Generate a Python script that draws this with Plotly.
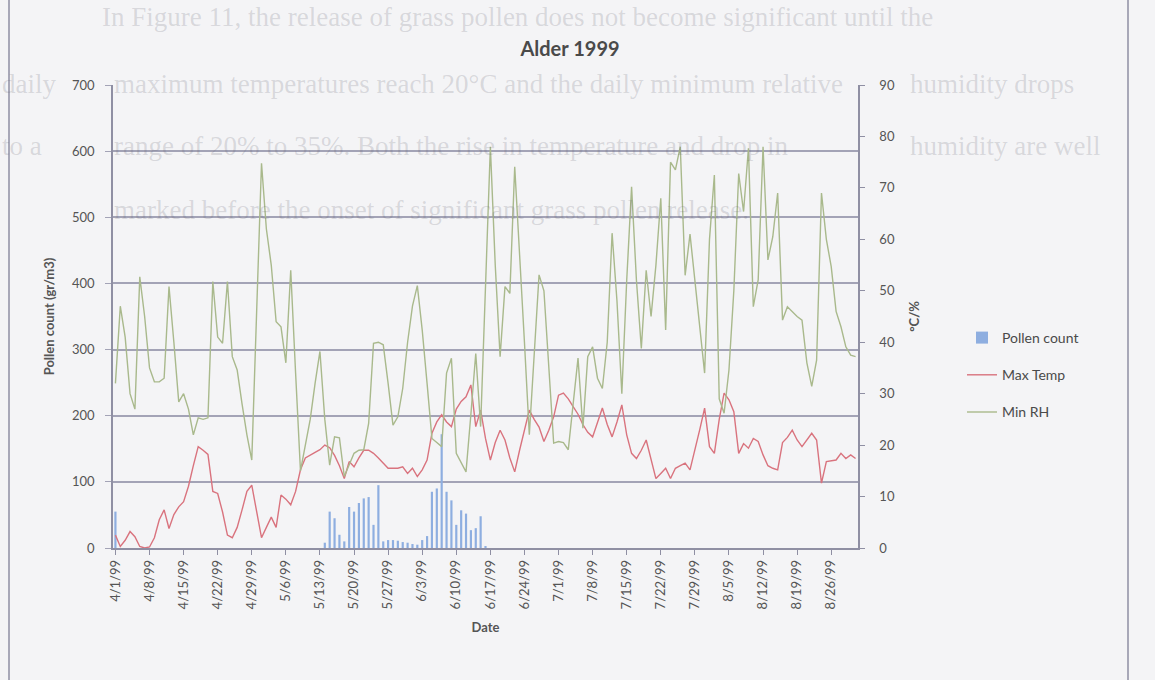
import pandas as pd
import plotly.graph_objects as go

# ---------------- data ----------------
dates = pd.date_range("1999-04-01", "1999-08-31", freq="D")

pollen_count = [
    55, 0, 0, 0, 0, 0, 0, 0, 0, 0,
    0, 0, 0, 0, 0, 0, 0, 0, 0, 0,
    0, 0, 0, 0, 0, 0, 0, 0, 0, 0,
    0, 0, 0, 0, 0, 0, 0, 0, 0, 0,
    0, 0, 0, 8, 55, 45, 20, 10, 62, 55,
    68, 75, 77, 35, 95, 10, 12, 12, 11, 9,
    8, 6, 5, 12, 18, 85, 90, 172, 85, 72,
    35, 57, 52, 27, 30, 48, 3, 0, 0, 0,
    0, 0, 0, 0, 0, 0, 0, 0, 0, 0,
    0, 0, 0, 0, 0, 0, 0, 0, 0, 0,
    0, 0, 0, 0, 0, 0, 0, 0, 0, 0,
    0, 0, 0, 0, 0, 0, 0, 0, 0, 0,
    0, 0, 0, 0, 0, 0, 0, 0, 0, 0,
    0, 0, 0, 0, 0, 0, 0, 0, 0, 0,
    0, 0, 0, 0, 0, 0, 0, 0, 0, 0,
    0, 0, 0,
]

max_temp = [
    2.5, 0.3, 1.5, 3.2, 2.2, 0.3, 0, 0.2, 2, 5.5,
    7.4, 3.8, 6.5, 8, 9, 12, 16, 19.7, 19, 18.2,
    11, 10.6, 7, 2.5, 2, 4, 7.4, 11, 12.2, 7,
    2, 4, 6, 4, 10.3, 9.5, 8.4, 11, 15.2, 17.5,
    18.1, 18.6, 19.1, 20, 19.5, 18, 16, 13.5, 16.8, 15.8,
    17.5, 19, 19, 18.4, 17.5, 16.5, 15.5, 15.5, 15.5, 15.8,
    14.5, 15.5, 13.9, 15.2, 17.1, 22.3, 24.5, 25.9, 24.5, 23.6,
    27, 28.5, 29.4, 31.7, 23.6, 26.8, 21.3, 17.1, 20.5, 22.9,
    21, 17.5, 14.8, 19, 22.9, 26.8, 25, 23.5, 20.7, 22.9,
    25.5, 29.7, 30.1, 29, 27.5, 26, 24, 22.5, 21.6, 24.5,
    27.2, 24, 21.6, 24.5, 27.8, 22, 18.4, 17.4, 19, 21,
    17, 13.5, 14.5, 15.5, 13.5, 15.5, 16, 16.5, 15.2, 19,
    23, 27.2, 19.7, 18.4, 25, 30.1, 28.8, 26.5, 18.4, 20.3,
    19.4, 21.3, 20.7, 18.1, 16, 15.5, 15.2, 20.5, 21.5, 22.9,
    21, 19.7, 21, 22.3, 21, 12.6, 16.8, 17, 17.1, 18.4,
    17.4, 18.1, 17.4,
]

min_rh = [
    32, 47, 41, 30, 27, 52.7, 45, 35, 32.3, 32.3,
    33, 50.8, 40, 28.4, 30, 27, 22, 25.3, 25, 25.3,
    51.8, 41, 39.8, 51.8, 37.2, 34.6, 28, 22, 17.1, 45,
    74.8, 62, 55, 44, 43, 36, 54, 34, 15, 20,
    25, 32, 38.2, 25, 16.1, 21.6, 21.4, 13.9, 16, 18.4,
    19, 19.1, 24.2, 39.8, 40, 39.5, 32, 23.9, 25.5, 31,
    40, 47, 51, 42.4, 32, 21.3, 20.5, 19.7, 34, 36.9,
    18.4, 16.5, 14.8, 26, 37.8, 23.6, 50, 78, 55, 37.2,
    50.8, 49.5, 74.1, 58, 40, 22, 38, 53.1, 50, 35,
    20.4, 20.7, 20.5, 19.1, 28, 36.9, 23.3, 37.2, 39.1, 33,
    31, 40, 61.2, 48, 30, 52, 70.2, 52, 38.8, 54,
    45, 55, 68, 42.4, 75, 73.5, 78, 53, 61, 52,
    42, 34, 60, 72.5, 29, 26.2, 34.6, 50, 72.8, 65.4,
    77.7, 46.9, 52.1, 78, 56, 60.5, 69, 44.3, 46.9, 46,
    45, 44.3, 36, 31.4, 36.5, 69, 60, 54.7, 46, 43,
    39.1, 37.5, 37.2,
]

tick_dates = pd.date_range("1999-04-01", "1999-08-26", freq="7D")
tick_labels = ["4/1/99", "4/8/99", "4/15/99", "4/22/99", "4/29/99", "5/6/99",
               "5/13/99", "5/20/99", "5/27/99", "6/3/99", "6/10/99", "6/17/99",
               "6/24/99", "7/1/99", "7/8/99", "7/15/99", "7/22/99", "7/29/99",
               "8/5/99", "8/12/99", "8/19/99", "8/26/99"]

# faint text of the scanned page showing through behind the chart
page_text = [
    "In Figure 11, the release of grass pollen does not become significant until the",
    "daily",
    "maximum temperatures reach 20\u00b0C and the daily minimum relative",
    "humidity drops",
    "to a",
    "range of 20% to 35%. Both the rise in temperature and drop in",
    "humidity are well",
    "marked before the onset of significant grass pollen release.",
]

# ---------------- figure ----------------
FONT = "Lato, 'Open Sans', sans-serif"
W, H = 1155, 680
L, R, T, B = 113, 297, 85, 132
pw = W - L - R
ph = H - T - B

fig = go.Figure()

fig.add_trace(go.Bar(
    x=dates, y=pollen_count, name="Pollen count",
    marker=dict(color="#8eaee0", line=dict(width=0)),
    legendgroup="a", yaxis="y",
))
fig.add_trace(go.Scatter(
    x=dates, y=max_temp, name="Max Temp", mode="lines",
    line=dict(color="#d9737e", width=1.4),
    legendgroup="b", yaxis="y2",
))
fig.add_trace(go.Scatter(
    x=dates, y=min_rh, name="Min RH", mode="lines",
    line=dict(color="#a9b98c", width=1.4),
    legendgroup="c", yaxis="y2",
))

ann = []
text_pos = [(100, 17), (0, 84), (112, 84), (908, 84),
            (0, 146), (112, 146), (908, 146), (112, 210)]
for (px, py), t in zip(text_pos, page_text):
    ann.append(dict(
        text=t, xref="paper", yref="paper",
        x=(px - L) / pw, y=(H - B - py) / ph,
        xanchor="left", yanchor="middle", showarrow=False,
        font=dict(family="'Liberation Serif', serif", size=27,
                  color="rgba(95,95,110,0.20)"),
    ))

shapes = []
for bx in (9, 1128):
    shapes.append(dict(
        type="line", xref="paper", yref="paper",
        x0=(bx - L) / pw, x1=(bx - L) / pw,
        y0=-B / ph, y1=(H - B) / ph,
        line=dict(color="#8f8fa3", width=1.5), layer="below",
    ))

fig.update_layout(
    width=W, height=H,
    margin=dict(l=L, r=R, t=T, b=B),
    paper_bgcolor="#f4f4f6", plot_bgcolor="#f4f4f6",
    font=dict(family=FONT, size=13, color="#555555"),
    title=dict(text="<b>Alder 1999</b>", x=570 / W, xref="container",
               y=1 - 49 / H, yref="container", xanchor="center", yanchor="middle",
               font=dict(family=FONT, size=20, color="#4a4a4a")),
    bargap=0.55,
    showlegend=True,
    legend=dict(x=(962 - L) / pw, y=(H - B - 322) / ph, xanchor="left", yanchor="top",
                bgcolor="rgba(0,0,0,0)", font=dict(family=FONT, size=14, color="#4a4a4a"),
                tracegroupgap=16, itemwidth=30),
    xaxis=dict(
        type="date",
        range=["1999-03-31 12:00", "1999-08-31 12:00"],
        tickmode="array", tickvals=tick_dates, ticktext=tick_labels,
        tickangle=-90, ticks="outside", ticklen=5, tickcolor="#8f8fa3",
        showgrid=False, showline=True, linecolor="#8f8fa3", linewidth=1.5,
        tickfont=dict(family=FONT, size=13, color="#555555"),
        title=dict(text="<b>Date</b>", font=dict(family=FONT, size=13, color="#555555"),
                   standoff=14),
        zeroline=False,
    ),
    yaxis=dict(
        range=[0, 700], dtick=100, tick0=0,
        showgrid=True, gridcolor="#a3a3b6", gridwidth=1.8,
        showline=True, linecolor="#8f8fa3", linewidth=1.5,
        ticks="outside", ticklen=6, tickcolor="#a3a3b6",
        ticklabelstandoff=8,
        tickfont=dict(family=FONT, size=13, color="#555555"),
        title=dict(text="<b>Pollen count (gr/m3)</b>",
                   font=dict(family=FONT, size=13, color="#555555"), standoff=14),
        zeroline=False,
    ),
    yaxis2=dict(
        range=[0, 90], dtick=10, tick0=0, overlaying="y", side="right",
        showgrid=False, showline=True, linecolor="#8f8fa3", linewidth=1.5,
        ticks="outside", ticklen=5, tickcolor="#8f8fa3",
        ticklabelstandoff=12,
        tickfont=dict(family=FONT, size=13, color="#555555"),
        title=dict(text="<b>\u00b0C/%</b>",
                   font=dict(family=FONT, size=13, color="#555555"), standoff=16),
        zeroline=False,
    ),
    annotations=ann,
    shapes=shapes,
)

fig.write_html("out.html")
